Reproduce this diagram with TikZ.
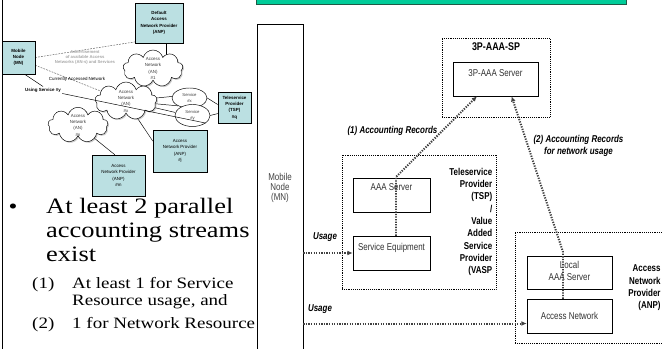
\documentclass[tikz,border=0pt]{standalone}
\usepackage{fontspec}
\setmainfont{Liberation Serif}
\newfontfamily\narrowsf[FakeStretch=0.8]{Liberation Sans}
\newfontfamily\smallsf{Liberation Sans}
\newfontfamily\wideserif[FakeStretch=1.2]{Liberation Serif}
\usetikzlibrary{shapes.symbols,shapes.geometric,arrows.meta,shadows,backgrounds}
\definecolor{boxcyan}{RGB}{187,224,226}
\definecolor{bargreen}{RGB}{0,204,153}
\definecolor{bardark}{RGB}{30,90,70}

\begin{document}
\begin{tikzpicture}[x=0.03cm,y=-0.03cm]

% definitions
\tikzstyle{anpbox} = [rectangle, draw=black, fill=boxcyan, align=center, inner sep=0pt, font=\smallsf\bfseries\fontsize{3.8}{5.4}\selectfont]

\tikzstyle{netcloud} = [cloud, cloud puffs=9, cloud ignores aspect, draw=black, fill=white, drop shadow={shadow xshift=1pt, shadow yshift=-1pt, fill=gray!80}, inner sep=0pt, align=center, text=gray!50!black, font=\smallsf\fontsize{3.8}{5.4}\selectfont]

\tikzstyle{service} = [ellipse, draw=black, fill=white, inner sep=0pt, align=center, text=gray!50!black, font=\smallsf\fontsize{3.6}{5}\selectfont]

\tikzstyle{note} = [align=center, inner sep=1pt, font=\smallsf\bfseries\fontsize{3.6}{4.3}\selectfont]

\tikzstyle{server} = [rectangle, draw=black, fill=white, minimum width=2.55cm, minimum height=1.02cm]

\tikzstyle{provbox} = [rectangle, draw=black, densely dotted, line width=0.6pt]

\tikzstyle{lbl} = [anchor=north, text=black!80, align=center, font=\narrowsf\fontsize{8.5}{10.5}\selectfont]

\tikzstyle{tag} = [align=right, font=\narrowsf\bfseries\fontsize{8.5}{10.5}\selectfont]

\tikzstyle{flowtag} = [align=center, font=\narrowsf\bfseries\itshape\fontsize{8.5}{10.5}\selectfont]

\tikzstyle{flow} = [-{Latex[length=4.5pt,width=4pt]}, line width=1.7pt, dash pattern=on 1.1pt off 1.1pt, draw=black!75]

\tikzstyle{link} = [draw=black, line width=0.4pt]

\tikzstyle{hint} = [draw=gray!70!black, dashed, dash pattern=on 1.5pt off 1pt, line width=0.4pt]

\useasboundingbox (0,0) rectangle (662,349);

% slide frame and title bar
\draw [line width=1.5pt] (2.5,0) -- (2.5,349);
\draw [fill=bargreen, draw=bardark, line width=0.8pt] (256,-6) rectangle (626,4.5);

% the small overview
\node (defanp) [anpbox, minimum width=1.44cm, minimum height=1.2cm] at (159,23) {Default\\Access\\Network Provider\\(ANP)};

\node (mnsmall) [anpbox, minimum width=0.99cm, minimum height=0.99cm] at (18.5,57.5) {Mobile\\Node\\(MN)};

\node (an1) [netcloud, minimum width=1.8cm, minimum height=1.11cm] at (153,68.5) {Access\\Network\\(AN)\\\#1};

\node (anx) [netcloud, minimum width=1.86cm, minimum height=1.14cm] at (126,101) {Access\\Network\\(AN)\\\#x};

\node (ann) [netcloud, minimum width=1.8cm, minimum height=1.02cm] at (78,125) {Access\\Network\\(AN)\\\#n};

\node (svcx) [service, minimum width=1.05cm, minimum height=0.6cm] at (189.5,98) {Service\\\#x};

\node (svcy) [service, minimum width=1.05cm, minimum height=0.66cm] at (192.5,115.5) {Service\\\#y};

\node (tspq) [anpbox, minimum width=0.99cm, minimum height=0.93cm] at (234.5,107.5) {Teleservice\\Provider\\(TSP)\\\#q};

\node (anpj) [anpbox, font=\smallsf\fontsize{3.8}{5.4}\selectfont, minimum width=1.62cm, minimum height=1.26cm] at (180,151) {Access\\Network Provider\\(ANP)\\\#j};

\node (anpm) [anpbox, font=\smallsf\fontsize{3.8}{5.4}\selectfont, minimum width=1.59cm, minimum height=1.23cm] at (118.5,175.5) {Access\\Network Provider\\(ANP)\\\#m};

\node (advert) [note, text=gray!70] at (85,57) {Advertisement\\of available Access\\Networks (AN-s) and Services};

\node (curnet) [note, font=\smallsf\fontsize{3.8}{4.6}\selectfont] at (77,79) {Currently Accessed Network};

\node (usesvc) [note, font=\smallsf\bfseries\fontsize{3.8}{4.6}\selectfont] at (43,90) {Using Service \#y};

\begin{pgfonlayer}{background}
\draw [link] (defanp.290) -- (defanp.290 |- an1.center);
\draw [hint] (mnsmall.east) -- (defanp.218);
\draw [hint] (mnsmall.-25) -- (anx.center);
\draw [link] (anx.center) -- (svcx.175);
\draw [link] (anx.center) -- (svcx.215);
\draw [link] (anx.center) -- (svcy.170);
\draw [link] (svcx.east) -- (tspq.170);
\draw [link] (svcy.east) -- (tspq.200);
\draw [link] (anx.center) -- (anpj.160);
\draw [link] (ann.center) -- (anpm.100);
\end{pgfonlayer}
\draw [link] (mnsmall.290) -- (usesvc.north);
\draw [link] (usesvc.south east) -- (svcy.-30);

% the bullet text
\node (dot) [font=\wideserif\fontsize{18}{20.5}\selectfont] at (13,209) {•};
\node (point) [anchor=north west, align=left, inner sep=0pt, font=\wideserif\fontsize{18.8}{20.5}\selectfont] at (46,198) {At least 2 parallel\\accounting streams\\exist};
\node (items) [anchor=north west, align=left, inner sep=0pt, font=\wideserif\fontsize{13.5}{15}\selectfont] at (32,277) {\makebox[1.2cm][l]{(1)}At least 1 for Service\\\hspace*{1.2cm}Resource usage, and\\[4pt]\makebox[1.2cm][l]{(2)}1 for Network Resource};

% the accounting graph
\node (mn) [rectangle, draw=black, minimum width=1.38cm, minimum height=9.84cm, align=center, text=black!75, font=\narrowsf\fontsize{8.5}{8.5}\selectfont] at (280,188) {Mobile\\Node\\(MN)};

\node (sp3p) [provbox, minimum width=3.24cm, minimum height=2.37cm, label={[tag, anchor=north, yshift=-1pt, font=\narrowsf\bfseries\fontsize{9.5}{11}\selectfont]north:3P-AAA-SP}] at (496,77.5) {};

\node (srv3p) [server, label={[lbl, yshift=-3pt]north:3P-AAA Server}] at (495.5,79) {};

\node (tsp) [provbox, minimum width=4.62cm, minimum height=4.02cm, label={[tag, anchor=east]east:Teleservice\\Provider\\(TSP)\\/\\Value\\Added\\Service\\Provider\\(VASP}] at (419,222) {};

\node (aaa) [server, minimum width=2.31cm, label={[lbl, yshift=-1pt]north:AAA Server}] at (391.5,195) {};

\node (se) [server, minimum width=2.31cm, label={[lbl, yshift=-3pt]north:Service Equipment}] at (391.5,253) {};

\node (anp) [provbox, minimum width=4.95cm, minimum height=3.33cm] at (597.5,287.5) {};

\node (anptag) [tag, anchor=east, inner xsep=1pt] at (662,288) {Access\\Network\\Provider\\(ANP)};

\node (local) [server, minimum height=0.99cm, label={[lbl, yshift=-1pt]north:Local\\AAA Server}] at (569.5,272.5) {};

\node (accnet) [server, text=black!80, font=\narrowsf\fontsize{8.5}{10.5}\selectfont] at (569.5,316) {Access Network};

\node (use1) [flowtag] at (325,237) {Usage};
\node (use2) [flowtag] at (320,309) {Usage};
\node (rec1) [flowtag] at (392.5,131) {(1) Accounting Records};
\node (rec2) [flowtag] at (578.5,146) {(2) Accounting Records\\for network usage};

\coordinate (bend1) at (396,177);
\coordinate (bend2) at (563,252);

\draw [flow] (mn.east |- se.west) -- (se.west);
\draw [flow] (mn.east |- accnet.190) -- (accnet.190);
\draw [flow] (bend1 |- se.north) -- (bend1) -- (srv3p.223);
\draw [flow] (bend2 |- accnet.north) -- (bend2) -- (srv3p.-47);

\end{tikzpicture}
\end{document}
